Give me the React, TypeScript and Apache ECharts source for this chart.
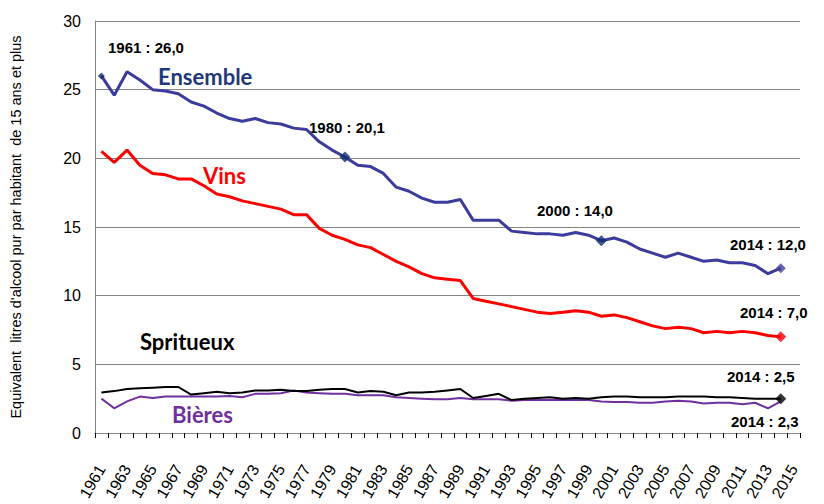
import React, { useEffect, useRef } from "react";
import * as echarts from "echarts";

const years: string[] = [];
for (let y = 1961; y <= 2015; y++) years.push(String(y));

const ensemble = [26.0, 24.6, 26.3, 25.7, 25.0, 24.9, 24.7, 24.1, 23.8, 23.3, 22.9, 22.7, 22.9, 22.6, 22.5, 22.2, 22.1, 21.2, 20.6, 20.1,
  19.5, 19.4, 18.9, 17.9, 17.6, 17.1, 16.8, 16.8, 17.0, 15.5, 15.5, 15.5, 14.7, 14.6, 14.5, 14.5, 14.4, 14.6, 14.4, 14.0,
  14.2, 13.9, 13.4, 13.1, 12.8, 13.1, 12.8, 12.5, 12.6, 12.4, 12.4, 12.2, 11.6, 12.0];
const vins = [20.5, 19.7, 20.6, 19.5, 18.9, 18.8, 18.5, 18.5, 18.0, 17.4, 17.2, 16.9, 16.7, 16.5, 16.3, 15.9, 15.9, 14.9, 14.4, 14.1,
  13.7, 13.5, 13.0, 12.5, 12.1, 11.6, 11.3, 11.2, 11.1, 9.8, 9.6, 9.4, 9.2, 9.0, 8.8, 8.7, 8.8, 8.9, 8.8, 8.5,
  8.6, 8.4, 8.1, 7.8, 7.6, 7.7, 7.6, 7.3, 7.4, 7.3, 7.4, 7.3, 7.1, 7.0];
const spiritueux = [2.95, 3.05, 3.2, 3.25, 3.3, 3.35, 3.35, 2.8, 2.9, 3.0, 2.9, 2.95, 3.1, 3.1, 3.15, 3.05, 3.05, 3.15, 3.2, 3.2,
  2.95, 3.05, 3.0, 2.75, 2.95, 2.95, 3.0, 3.1, 3.2, 2.55, 2.7, 2.85, 2.4, 2.5, 2.55, 2.6, 2.5, 2.55, 2.5, 2.6,
  2.65, 2.65, 2.6, 2.6, 2.6, 2.65, 2.65, 2.65, 2.6, 2.6, 2.55, 2.5, 2.5, 2.5];
const bieres = [2.5, 1.8, 2.3, 2.65, 2.55, 2.65, 2.65, 2.65, 2.65, 2.65, 2.7, 2.6, 2.85, 2.85, 2.9, 3.1, 2.95, 2.9, 2.85, 2.85,
  2.75, 2.75, 2.75, 2.6, 2.55, 2.5, 2.45, 2.45, 2.55, 2.45, 2.45, 2.45, 2.35, 2.4, 2.4, 2.4, 2.4, 2.4, 2.4, 2.3,
  2.25, 2.25, 2.2, 2.2, 2.3, 2.35, 2.3, 2.15, 2.2, 2.2, 2.1, 2.2, 1.8, 2.3];
const yTicks = [0, 5, 10, 15, 20, 25, 30];

const idx = (y: number) => y - 1961;
const fmt = (v: number) => v.toFixed(1).replace(".", ",");
const lbl = (y: number, arr: number[]) => `${y} : ${fmt(arr[idx(y)])}`;

const BLUE = "#3C3C9E";
const NAVY = "#0F2C6B";
const RED = "#FF0000";
const PURPLE = "#7030A0";
const SANS = "Liberation Sans";

export default function App() {
  const ref = useRef<HTMLDivElement>(null);
  useEffect(() => {
    if (!ref.current) return;
    const chart = echarts.init(ref.current, undefined, { renderer: "svg" });
    const valFont = { fontFamily: SANS, fontWeight: "bold", fontSize: 15, fill: "#000" };
    const nameFont = { fontFamily: "Lato", fontWeight: "bold", fontSize: 22 };
    const txt = (x: number, y: number, text: string, style: any) => ({
      type: "text", left: x, top: y, style: { text, ...style },
    });
    chart.setOption({
      animation: false,
      grid: { left: 95, right: 24, top: 21, bottom: 71, containLabel: false },
      xAxis: {
        type: "category",
        data: years,
        boundaryGap: true,
        axisLine: { lineStyle: { color: "#868686", width: 1 } },
        axisTick: { show: true, interval: 0, length: 5, lineStyle: { color: "#000" } },
        axisLabel: {
          interval: 1, rotate: 60, margin: 33, fontSize: 16,
          fontFamily: SANS, color: "#000",
        },
        splitLine: { show: false },
      },
      yAxis: {
        type: "value",
        min: yTicks[0], max: yTicks[yTicks.length - 1], interval: 5,
        name: "Equivalent  litres d'alcool pur par habitant  de 15 ans et plus",
        nameLocation: "middle", nameGap: 72,
        nameTextStyle: { fontSize: 14.5, fontFamily: SANS, color: "#000" },
        axisLine: { show: true, lineStyle: { color: "#868686" } },
        axisTick: { show: false },
        axisLabel: { fontSize: 16, fontFamily: SANS, color: "#000", margin: 14 },
        splitLine: { lineStyle: { color: "#868686", width: 1 } },
      },
      series: [
        { name: "Ensemble", type: "line", data: ensemble, symbol: "none", lineStyle: { color: BLUE, width: 3 }, z: 5 },
        { name: "Vins", type: "line", data: vins, symbol: "none", lineStyle: { color: RED, width: 3 }, z: 5 },
        { name: "Spritueux", type: "line", data: spiritueux, symbol: "none", lineStyle: { color: "#000", width: 2 }, z: 4 },
        { name: "Bières", type: "line", data: bieres, symbol: "none", lineStyle: { color: PURPLE, width: 2 }, z: 3 },
        {
          type: "scatter", symbol: "diamond", z: 10,
          data: [
            { value: [years[idx(1961)], ensemble[idx(1961)]], symbolSize: 7, itemStyle: { color: NAVY } },
            { value: [years[idx(1980)], ensemble[idx(1980)]], symbolSize: 11, itemStyle: { color: NAVY } },
            { value: [years[idx(2000)], ensemble[idx(2000)]], symbolSize: 11, itemStyle: { color: NAVY } },
            { value: [years[idx(2014)], ensemble[idx(2014)]], symbolSize: 10, itemStyle: { color: BLUE } },
            { value: [years[idx(2014)], vins[idx(2014)]], symbolSize: 11, itemStyle: { color: RED } },
            { value: [years[idx(2014)], spiritueux[idx(2014)]], symbolSize: 11, itemStyle: { color: "#000" } },
          ],
        },
      ],
      graphic: [
        txt(108, 40, lbl(1961, ensemble), valFont),
        txt(158, 65, "Ensemble", { ...nameFont, fill: "#1F3A7A" }),
        txt(309, 120, lbl(1980, ensemble), valFont),
        txt(203, 164, "Vins", { ...nameFont, fill: RED }),
        txt(537, 203, lbl(2000, ensemble), valFont),
        txt(730, 237, lbl(2014, ensemble), valFont),
        txt(740, 305, lbl(2014, vins), valFont),
        txt(140, 330, "Spritueux", { ...nameFont, fill: "#000" }),
        txt(727, 369, lbl(2014, spiritueux), valFont),
        txt(172, 403, "Bières", { ...nameFont, fill: PURPLE }),
        txt(731, 414, lbl(2014, bieres), valFont),
      ],
    });
    return () => chart.dispose();
  }, []);
  return <div ref={ref} style={{ position: "absolute", left: 0, top: 0, width: 824, height: 504, background: "#fff" }} />;
}
